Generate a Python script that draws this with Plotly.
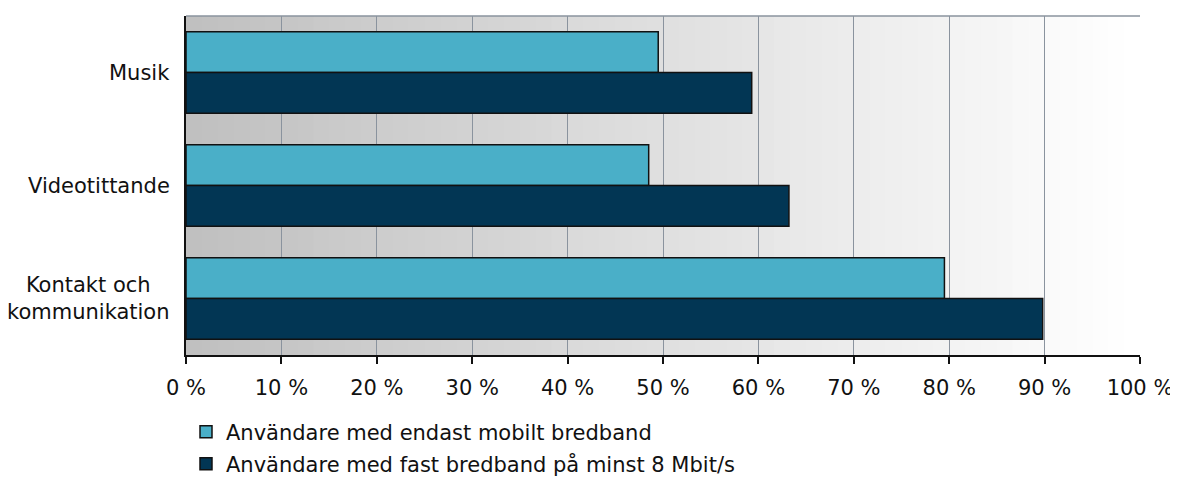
import plotly.graph_objects as go

categories = ["Musik", "Videotittande", "Kontakt och<br>kommunikation"]
series_names = ["Användare med endast mobilt bredband",
                "Användare med fast bredband på minst 8 Mbit/s"]
mobile_only = [49.5, 48.5, 79.5]
fixed_8mbit = [59.3, 63.2, 89.8]
tick_values = [0, 10, 20, 30, 40, 50, 60, 70, 80, 90, 100]
tick_labels = [f"{v} %" for v in tick_values]

colors = ["#4aafc8", "#023654"]
FONT = "DejaVu Sans"
FS = 21

# page body has an 8px default margin, so the figure is sized to fit
W, H = 1170, 469

fig = go.Figure()
fig.add_trace(go.Bar(
    y=categories, x=mobile_only, orientation="h", name=series_names[0],
    marker=dict(color=colors[0], line=dict(color="#111111", width=1.5)),
    legend="legend",
))
fig.add_trace(go.Bar(
    y=categories, x=fixed_8mbit, orientation="h", name=series_names[1],
    marker=dict(color=colors[1], line=dict(color="#111111", width=1.5)),
    legend="legend2",
))

# horizontal gradient background (gray -> white)
steps = 60
shapes = []
for i in range(steps):
    t = i / (steps - 1)
    c = int(round(192 + (255 - 192) * t))
    shapes.append(dict(type="rect", xref="x domain", yref="y domain",
                       x0=i / steps, x1=(i + 1) / steps + 0.002, y0=0, y1=1,
                       fillcolor=f"rgb({c},{c},{c})", line=dict(width=0),
                       layer="below"))
# top border
shapes.append(dict(type="line", xref="x domain", yref="y domain",
                   x0=0, x1=1, y0=1, y1=1,
                   line=dict(color="#8a939e", width=1.5), layer="above"))

# category labels, each line centred, right-anchored next to the plot
annotations = [dict(text=c, xref="x domain", yref="y", x=0, y=c,
                    xanchor="right", yanchor="middle", align="center",
                    xshift=-14, showarrow=False,
                    font=dict(size=FS, family=FONT, color="#111111"))
               for c in categories]

legend_common = dict(xref="container", yref="container",
                     x=178 / W, xanchor="left", yanchor="middle",
                     font=dict(size=FS, family=FONT), bgcolor="rgba(0,0,0,0)",
                     itemwidth=30)

fig.update_layout(
    width=W, height=H,
    margin=dict(l=178, r=38, t=8, b=122, autoexpand=False),
    paper_bgcolor="white", plot_bgcolor="white",
    barmode="group", bargap=0.28, bargroupgap=0,
    font=dict(family=FONT, size=FS, color="#111111"),
    shapes=shapes,
    annotations=annotations,
    xaxis=dict(range=[0, 100], tickvals=tick_values, ticktext=tick_labels,
               showgrid=True, gridcolor="#8a939e", gridwidth=1,
               showline=True, linecolor="#111111", linewidth=1.5,
               ticks="outside", ticklen=7, tickcolor="#111111", tickwidth=1.5,
               tickfont=dict(size=FS, family=FONT), zeroline=False,
               automargin=False, ticklabelstandoff=6, fixedrange=True),
    yaxis=dict(autorange="reversed", showgrid=False, zeroline=False,
               showline=True, linecolor="#111111", linewidth=1.5,
               ticks="", showticklabels=False, automargin=False,
               fixedrange=True),
    legend=dict(y=(H - 424) / H, **legend_common),
    legend2=dict(y=(H - 456) / H, **legend_common),
    showlegend=True,
)

fig.write_html("out.html")
